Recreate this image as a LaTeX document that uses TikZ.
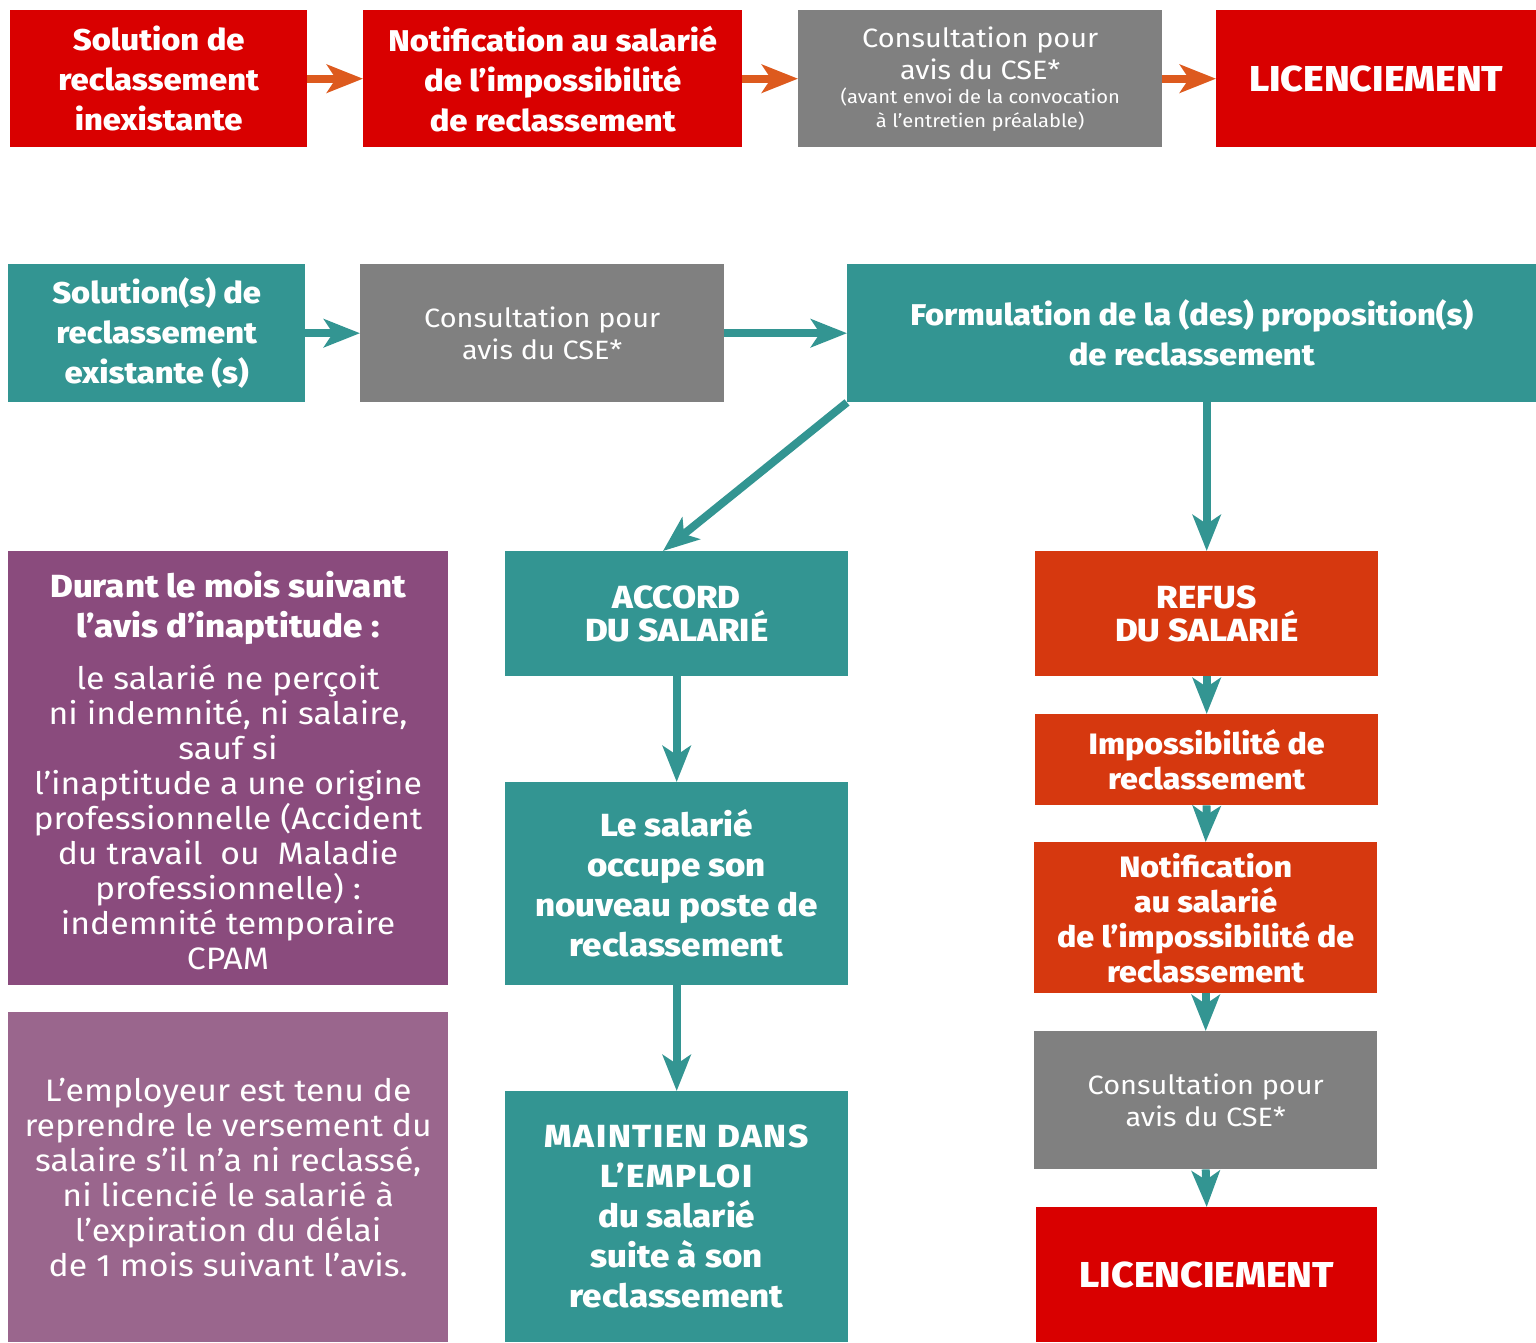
\documentclass[tikz,border=0pt]{standalone}
\usepackage{fontspec}
\setmainfont{Fira Sans}[FakeStretch=1.09,BoldFont={Fira Sans ExtraBold}]
\usetikzlibrary{arrows.meta,calc}
\definecolor{darkred}{HTML}{D90000}
\definecolor{rust}{HTML}{D6380F}
\definecolor{tealbox}{HTML}{339592}
\definecolor{greybox}{HTML}{808080}
\definecolor{plum}{HTML}{8A4B7D}
\definecolor{lightplum}{HTML}{9A668D}
\definecolor{arrorange}{HTML}{DD5A1E}
\begin{document}
\begin{tikzpicture}[x=1pt,y=-1pt,
  block/.style={anchor=north west,inner sep=0pt,text=white,align=center},
  bigbold/.style={font=\fontsize{30}{40}\selectfont\bfseries},
  widebold/.style={font=\fontsize{32}{40}\selectfont\bfseries},
  capsbold/.style={font=\fontsize{32}{33}\selectfont\bfseries},
  midbold/.style={font=\fontsize{29.5}{35}\selectfont\bfseries},
  licbold/.style={font=\fontsize{36}{40}\selectfont\bfseries},
  plain/.style={font=\fontsize{26.5}{32}\selectfont},
  longtext/.style={font=\fontsize{31}{35}\selectfont},
  orangearrow/.style={arrorange,line width=8pt,-{Stealth[length=36pt,width=28pt,inset=9pt]}},
  tealarrow/.style={tealbox,line width=8pt,-{Stealth[length=36pt,width=28pt,inset=9pt]}}]
\useasboundingbox[fill=white] (0,0) rectangle (1536,1342);
\node[block,bigbold,fill=darkred,minimum width=297pt,minimum height=137pt] (a1) at (10,10) {Solution de\\reclassement\\inexistante};
\node[block,bigbold,fill=darkred,minimum width=379pt,minimum height=137pt] (a2) at (363,10) {Notification au salarié\\de l’impossibilité\\de reclassement};
\node[block,plain,fill=greybox,minimum width=364pt,minimum height=137pt] (a3) at (798,10) {Consultation pour\\avis du CSE*\\[-8pt]{\fontsize{18.5}{24}\selectfont (avant envoi de la convocation}\\[-8pt]{\fontsize{18.5}{24}\selectfont à l’entretien préalable)}};
\node[block,licbold,fill=darkred,minimum width=320pt,minimum height=137pt] (a4) at (1216,10) {LICENCIEMENT};
\draw[orangearrow] (a1.east) -- (a2.west);
\draw[orangearrow] (a2.east) -- (a3.west);
\draw[orangearrow] (a3.east) -- (a4.west);

\node[block,bigbold,fill=tealbox,minimum width=297pt,minimum height=138pt] (b1) at (8,264) {Solution(s) de\\reclassement\\existante (s)};
\node[block,plain,fill=greybox,minimum width=364pt,minimum height=138pt] (b2) at (360,264) {Consultation pour\\avis du CSE*};
\node[block,bigbold,fill=tealbox,minimum width=689pt,minimum height=138pt] (b3) at (847,264) {Formulation de la (des) proposition(s)\\de reclassement};
\draw[tealarrow] (b1.east) -- (b2.west);
\draw[tealarrow] (b2.east) -- (b3.west);

\node[block,fill=plum,minimum width=440pt,minimum height=434pt] (p1) at (8,551) {};
\node[text=white,align=center,widebold,anchor=north] (p1head) at (228,568) {Durant le mois suivant\\l’avis d’inaptitude :};
\node[text=white,align=center,longtext,anchor=north] (p1body) at (228,661) {le salarié ne perçoit\\ni indemnité, ni salaire,\\sauf si\\l’inaptitude a une origine\\professionnelle (Accident\\du travail~~ou~~Maladie\\professionnelle) :\\indemnité temporaire\\CPAM};
\node[block,longtext,fill=lightplum,minimum width=440pt,minimum height=330pt] (p2) at (8,1012) {L’employeur est tenu de\\reprendre le versement du\\salaire s’il n’a ni reclassé,\\ni licencié le salarié à\\l’expiration du délai\\de 1 mois suivant l’avis.};

\node[block,capsbold,fill=tealbox,minimum width=343pt,minimum height=125pt] (c1) at (505,551) {ACCORD\\DU SALARIÉ};
\node[block,widebold,fill=tealbox,minimum width=343pt,minimum height=203pt] (c2) at (505,782) {Le salarié\\occupe son\\nouveau poste de\\reclassement};
\node[block,widebold,fill=tealbox,minimum width=343pt,minimum height=251pt] (c3) at (505,1091) {{\addfontfeature{LetterSpace=5}MAINTIEN DANS}\\{\addfontfeature{LetterSpace=5}L’EMPLOI}\\du salarié\\suite à son\\reclassement};
\draw[tealarrow] (b3.south west) -- ($(c1.north west)!0.46!(c1.north east)$);
\draw[tealarrow] (c1.south) -- (c2.north);
\draw[tealarrow] (c2.south) -- (c3.north);

\node[block,capsbold,fill=rust,minimum width=343pt,minimum height=125pt] (d1) at (1035,551) {REFUS\\DU SALARIÉ};
\node[block,midbold,fill=rust,minimum width=343pt,minimum height=91pt] (d2) at (1035,714) {Impossibilité de\\reclassement};
\node[block,midbold,fill=rust,minimum width=343pt,minimum height=151pt] (d3) at (1034,842) {Notification\\au salarié\\de l’impossibilité de\\reclassement};
\node[block,plain,fill=greybox,minimum width=343pt,minimum height=138pt] (d4) at (1034,1031) {Consultation pour\\avis du CSE*};
\node[block,licbold,fill=darkred,minimum width=341pt,minimum height=135pt] (d5) at (1036,1207) {LICENCIEMENT};
\draw[tealarrow] (b3.south -| d1.north) -- (d1.north);
\draw[tealarrow] (d1.south) -- (d2.north);
\draw[tealarrow] (d2.south) -- (d3.north);
\draw[tealarrow] (d3.south) -- (d4.north);
\draw[tealarrow] (d4.south) -- (d5.north);
\end{tikzpicture}
\end{document}
